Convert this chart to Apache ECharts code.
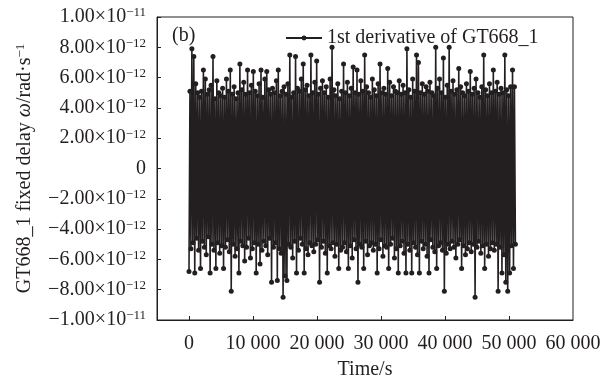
<!DOCTYPE html>
<html>
<head>
<meta charset="utf-8" />
<script src="https://cdn.jsdelivr.net/npm/echarts@6/dist/echarts.min.js"></script>
</head>
<body style="margin:0">
<div id="main" style="width:603px;height:381px"></div>
<script>
// values in units of 1e-12 rad/s, one sample every 150 s starting at 0 s
var seriesName = "1st derivative of GT668_1";
var startTime = 0, sampleStep = 150;
var derivValues = [
  -6.8, 5.1, -5.3, 7.9, -4.9, 7.4, -6.9, 5.6, -4.6, 5.0, -5.4, 4.7, -6.6, 5.1, -4.8, 6.5, -5.2, 5.9, -5.7, 4.9,
  -4.5, 5.2, -6.9, 5.5, -5.0, 7.4, -5.4, 4.6, -6.6, 5.8, -4.9, 5.0, -5.6, 4.8, -5.1, 5.3, -6.6, 4.7, -5.2, 5.9,
  -4.7, 5.1, -5.5, 6.5, -8.1, 4.9, -5.0, 5.4, -5.8, 4.6, -5.3, 5.0, -6.9, 6.9, -4.8, 5.2, -5.1, 5.7, -6.1, 4.9,
  -5.2, 6.5, -4.6, 5.0, -5.9, 5.5, -5.3, 6.4, -4.9, 5.1, -6.9, 4.8, -5.0, 5.6, -6.3, 6.5, -5.4, 4.7, -4.8, 5.9,
  -5.1, 6.4, -5.7, 5.2, -4.6, 4.9, -7.5, 5.3, -5.2, 5.0, -4.9, 5.8, -7.4, 6.5, -5.3, 4.8, -5.6, 5.1, -8.5, 5.4,
  -7.1, 4.9, -7.4, 5.6, -5.0, 7.5, -5.2, 4.7, -5.9, 5.0, -4.8, 7.4, -6.9, 5.3, -5.4, 5.1, -4.6, 5.9, -5.0, 6.9,
  -6.9, 5.2, -5.3, 5.5, -5.7, 4.8, -4.9, 7.5, -5.1, 5.0, -5.5, 5.7, -5.0, 7.1, -4.7, 4.9, -7.5, 5.3, -5.2, 5.8,
  -4.8, 5.0, -5.6, 5.4, -6.9, 4.7, -5.1, 5.9, -5.3, 8.0, -4.9, 5.2, -5.8, 4.8, -5.0, 5.6, -6.6, 4.6, -5.4, 5.1,
  -5.2, 6.9, -4.9, 5.0, -5.5, 5.7, -6.6, 4.8, -5.1, 5.3, -5.9, 6.7, -4.7, 5.0, -5.3, 6.5, -7.5, 4.9, -5.0, 5.8,
  -5.2, 5.1, -6.6, 7.5, -4.8, 5.4, -5.7, 5.0, -5.1, 4.7, -4.9, 5.9, -5.4, 5.2, -5.0, 4.8, -6.9, 5.6, -5.3, 6.9,
  -4.7, 5.0, -5.8, 5.3, -5.1, 4.9, -5.2, 6.6, -6.6, 5.7, -5.0, 4.8, -4.6, 5.4, -5.9, 5.1, -5.3, 5.0, -6.9, 5.8,
  -5.1, 4.9, -4.8, 5.5, -5.6, 5.0, -6.9, 7.9, -5.0, 5.2, -5.4, 4.7, -6.9, 5.9, -4.9, 5.1, -5.2, 7.5, -5.7, 7.0,
  -6.9, 5.0, -4.8, 5.6, -5.3, 4.9, -5.0, 5.4, -5.8, 5.1, -6.9, 5.7, -4.7, 5.0, -5.2, 4.8, -5.5, 8.0, -6.6, 5.3,
  -5.1, 5.9, -4.9, 5.0, -5.4, 7.3, -8.1, 4.7, -5.6, 5.5, -5.0, 8.0, -5.3, 5.1, -4.8, 5.8, -5.2, 4.9, -5.9, 5.2,
  -5.0, 6.6, -4.7, 5.4, -6.6, 5.0, -5.1, 4.8, -5.7, 5.6, -5.3, 5.1, -4.9, 6.4, -5.5, 4.9, -5.0, 5.3, -8.5, 5.9,
  -5.2, 5.0, -4.8, 4.7, -5.6, 5.4, -5.1, 7.5, -6.6, 5.2, -5.0, 4.8, -5.8, 5.6, -5.3, 5.0, -4.9, 6.5, -5.4, 5.1,
  -5.0, 5.7, -8.1, 4.9, -5.2, 5.3, -6.9, 5.0, -5.7, 7.5, -7.5, 5.2, -8.1, 4.8, -6.9, 5.4, -5.1, 6.5, -6.6, 5.4,
  -5.0
];
var xLabelValues = [0, 10000, 20000, 30000, 40000, 50000, 60000];
var xTickValues = [0, 10000, 20000, 30000, 40000, 50000];

var ink = "#231f20";
var serif = "Liberation Serif";

var points = derivValues.map(function (v, i) {
    return [startTime + i * sampleStep, v];
});

function yLabel(v) {
    if (v === 0) return "{m|0}";
    var s = v < 0 ? "\u2212" : "";
    var a = Math.abs(v);
    if (a === 10) return "{m|" + s + "1.00\u00d710}{e|\u221211}";
    return "{m|" + s + a.toFixed(2) + "\u00d710}{e|\u221212}";
}

function xLabel(v) {
    return String(v).replace(/\B(?=(\d{3})+(?!\d))/g, " ");
}

var chart = echarts.init(document.getElementById("main"));
chart.setOption({
    animation: false,
    textStyle: { fontFamily: serif, color: ink },
    grid: {
        left: 157, top: 17, right: 30, bottom: 61,
        outerBoundsMode: "none",
        show: true, borderColor: ink, borderWidth: 1
    },
    legend: {
        data: [seriesName],
        left: 280, top: 23,
        itemWidth: 36, itemHeight: 6, itemGap: 5,
        textStyle: { fontFamily: serif, fontSize: 20, color: ink }
    },
    graphic: [{
        type: "text", left: 172, top: 26,
        style: { text: "(b)", font: "20px " + serif, fill: ink }
    }],
    xAxis: {
        type: "value", min: -5000, max: 60000,
        name: "Time/s", nameLocation: "middle", nameGap: 40,
        nameTextStyle: { fontFamily: serif, fontSize: 20, color: ink },
        axisLine: { onZero: false, lineStyle: { color: ink, width: 1 } },
        axisTick: { inside: true, length: 4, lineStyle: { color: ink }, customValues: xTickValues },
        axisLabel: { fontFamily: serif, fontSize: 20, color: ink, margin: 14, customValues: xLabelValues, formatter: xLabel },
        splitLine: { show: false }
    },
    yAxis: {
        type: "value", min: -10, max: 10, interval: 2,
        name: "{n|GT668_1 fixed delay }{i|\u03c9}{n|/rad\u00b7s}{e|\u22121}",
        nameLocation: "middle", nameGap: 122,
        nameTextStyle: {
            color: ink,
            rich: {
                n: { fontFamily: serif, fontSize: 20, color: ink },
                i: { fontFamily: serif, fontSize: 20, fontStyle: "italic", color: ink },
                e: { fontFamily: serif, fontSize: 13, color: ink, verticalAlign: "top", padding: [0, 0, 8, 0] }
            }
        },
        axisLine: { show: true, onZero: false, lineStyle: { color: ink, width: 1 } },
        axisTick: { show: true, inside: true, length: 4, lineStyle: { color: ink } },
        axisLabel: {
            margin: 11, formatter: yLabel,
            rich: {
                m: { fontFamily: serif, fontSize: 20, color: ink },
                e: { fontFamily: serif, fontSize: 13, color: ink, verticalAlign: "top", padding: [0, 0, 8, 0] }
            }
        },
        splitLine: { show: false }
    },
    series: [{
        name: seriesName,
        type: "line",
        data: points,
        symbol: "circle",
        symbolSize: 5,
        showAllSymbol: true,
        color: ink,
        lineStyle: { color: ink, width: 1.6 },
        itemStyle: { color: ink }
    }]
});
</script>
</body>
</html>
